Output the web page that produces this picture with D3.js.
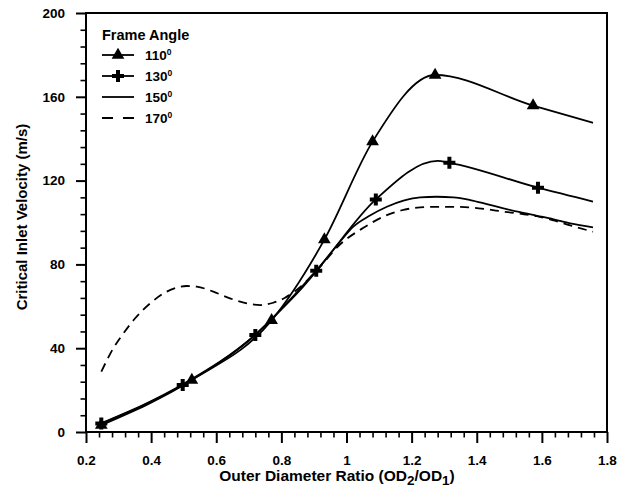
<!DOCTYPE html>
<html>
<head>
<meta charset="utf-8">
<script src="https://cdn.jsdelivr.net/npm/d3@7"></script>
<style>
  html, body { margin: 0; padding: 0; background: #fff; }
  svg { display: block; }
  text { font-family: Arial, "Liberation Sans", sans-serif; font-weight: bold; fill: #000; }
</style>
</head>
<body>
<div id="chart"></div>
<script>
// ---------- data ----------
const legendTitle = "Frame Angle";
const seriesNames = ["110", "130", "150", "170"];

// 110° frame angle (triangles); last point is the curve end without a marker
const x110 = [0.247, 0.525, 0.770, 0.932, 1.080, 1.272, 1.573, 1.757];
const y110 = [3.3, 24.8, 53.3, 91.8, 138.6, 170.4, 155.8, 147.6];
const m110 = [1, 1, 1, 1, 1, 1, 1, 0];

// 130° frame angle (plus markers)
const x130 = [0.247, 0.497, 0.720, 0.907, 1.090, 1.280, 1.316, 1.588, 1.757];
const y130 = [4.0, 22.4, 46.3, 77.0, 111.0, 129.4, 128.5, 116.6, 110.0];
const m130 = [1, 1, 1, 1, 1, 0, 1, 1, 0];

// 150° frame angle (solid line, no markers)
const x150 = [0.247, 0.500, 0.720, 0.800, 0.850, 0.910, 0.980, 1.021, 1.072, 1.124, 1.175, 1.226, 1.277, 1.328, 1.380, 1.431, 1.482, 1.533, 1.585, 1.636, 1.687, 1.757];
const y150 = [4.2, 23.0, 46.5, 58.5, 66.5, 77.3, 90.8, 98.0, 103.3, 107.5, 110.4, 112.0, 112.3, 112.0, 110.7, 108.8, 106.8, 104.9, 103.2, 101.5, 99.6, 97.7];

// 170° frame angle (dashed line, no markers)
const x170 = [0.247, 0.284, 0.315, 0.351, 0.397, 0.448, 0.509, 0.540, 0.591, 0.642, 0.694, 0.735, 0.775, 0.810, 0.860, 0.910, 0.980, 1.052, 1.124, 1.175, 1.226, 1.277, 1.328, 1.380, 1.431, 1.482, 1.533, 1.585, 1.636, 1.687, 1.757];
const y170 = [28.8, 40.0, 47.1, 54.3, 61.4, 67.0, 69.7, 69.4, 67.0, 63.8, 61.4, 60.6, 61.7, 64.0, 69.5, 77.3, 89.5, 97.5, 103.5, 106.0, 107.2, 107.5, 107.5, 107.2, 106.3, 105.2, 104.2, 103.0, 101.0, 98.6, 95.6];

const xTicks = [0.2, 0.4, 0.6, 0.8, 1.0, 1.2, 1.4, 1.6, 1.8];
const xTickLabels = ["0.2", "0.4", "0.6", "0.8", "1", "1.2", "1.4", "1.6", "1.8"];
const yTicks = [0, 40, 80, 120, 160, 200];
const xTitle = ["Outer Diameter Ratio (OD", "2", "/OD", "1", ")"];
const yTitle = "Critical Inlet Velocity (m/s)";

// ---------- chart ----------
const W = 620, H = 499;
const FONT = "Arial, 'Liberation Sans', sans-serif";
const svg = d3.select("#chart").append("svg").attr("width", W).attr("height", H);

const x = d3.scaleLinear().domain([0.2, 1.8]).range([86, 607]);
const y = d3.scaleLinear().domain([0, 200]).range([432, 13]);

const xMinor = d3.range(0, 41).map(i => 0.2 + i * 0.04).filter(v => !xTicks.some(t => Math.abs(t - v) < 1e-6));
const yMinor = d3.range(0, 26).map(i => i * 8).filter(v => !yTicks.includes(v));

// minor ticks
svg.append("g").attr("transform", `translate(0,${y(0)})`)
  .call(d3.axisBottom(x).tickValues(xMinor).tickSize(5.5).tickFormat(""))
  .call(g => g.select(".domain").remove())
  .call(g => g.selectAll("line").attr("stroke", "#000").attr("stroke-width", 1.6));
svg.append("g").attr("transform", `translate(${x(0.2)},0)`)
  .call(d3.axisLeft(y).tickValues(yMinor).tickSize(5.5).tickFormat(""))
  .call(g => g.select(".domain").remove())
  .call(g => g.selectAll("line").attr("stroke", "#000").attr("stroke-width", 1.6));

// major ticks
const gx = svg.append("g").attr("transform", `translate(0,${y(0)})`)
  .call(d3.axisBottom(x).tickValues(xTicks).tickSize(11).tickPadding(12)
    .tickFormat((d, i) => xTickLabels[i]));
gx.select(".domain").remove();
gx.selectAll("line").attr("stroke", "#000").attr("stroke-width", 2);
gx.selectAll("text").attr("font-size", 13.5).attr("font-family", FONT).attr("font-weight", "bold");

const gy = svg.append("g").attr("transform", `translate(${x(0.2)},0)`)
  .call(d3.axisLeft(y).tickValues(yTicks).tickSize(10).tickPadding(11));
gy.select(".domain").remove();
gy.selectAll("line").attr("stroke", "#000").attr("stroke-width", 2);
gy.selectAll("text").attr("font-size", 13.5).attr("font-family", FONT).attr("font-weight", "bold");

// frame
svg.append("rect")
  .attr("x", x(0.2)).attr("y", y(200))
  .attr("width", x(1.8) - x(0.2)).attr("height", y(0) - y(200))
  .attr("fill", "none").attr("stroke", "#000").attr("stroke-width", 2);

// lines
const line = d3.line().x(d => x(d[0])).y(d => y(d[1])).curve(d3.curveMonotoneX);
const zip = (xs, ys) => xs.map((v, i) => [v, ys[i]]);

const series = [
  { name: seriesNames[0], pts: zip(x110, y110), mk: m110, sym: d3.symbolTriangle, size: 70, dash: null },
  { name: seriesNames[1], pts: zip(x130, y130), mk: m130, sym: d3.symbolCross, size: 80, dash: null },
  { name: seriesNames[2], pts: zip(x150, y150), mk: null, sym: null, dash: null },
  { name: seriesNames[3], pts: zip(x170, y170), mk: null, sym: null, dash: "9,6" },
];

series.forEach(s => {
  svg.append("path")
    .attr("d", line(s.pts))
    .attr("fill", "none").attr("stroke", "#000").attr("stroke-width", 1.8)
    .attr("stroke-dasharray", s.dash);
  if (s.sym) {
    svg.append("g").selectAll("path")
      .data(s.pts.filter((d, i) => s.mk[i]))
      .join("path")
      .attr("transform", d => `translate(${x(d[0])},${y(d[1])})`)
      .attr("d", d3.symbol().type(s.sym).size(s.size))
      .attr("fill", "#000");
  }
});

// legend
const lg = svg.append("g");
lg.append("text").attr("x", 102).attr("y", 40).attr("font-size", 14.5).text(legendTitle);
const rowY = [55, 76, 97, 118];
series.forEach((s, i) => {
  const cy = rowY[i];
  lg.append("line").attr("x1", 102).attr("x2", 134).attr("y1", cy).attr("y2", cy)
    .attr("stroke", "#000").attr("stroke-width", 1.8)
    .attr("stroke-dasharray", s.dash ? "11,10" : null);
  if (s.sym) {
    lg.append("path").attr("transform", `translate(118,${cy})`)
      .attr("d", d3.symbol().type(s.sym).size(s.size)).attr("fill", "#000");
  }
  const t = lg.append("text").attr("x", 145).attr("y", cy + 5).attr("font-size", 13.5);
  t.append("tspan").text(s.name);
  t.append("tspan").attr("font-size", 8.5).attr("dy", -5).text("0");
});

// axis titles
const xt = svg.append("text").attr("x", 337).attr("y", 481).attr("text-anchor", "middle").attr("font-size", 15.5);
xt.append("tspan").text(xTitle[0]);
xt.append("tspan").attr("dy", 4).attr("font-size", 13.5).text(xTitle[1]);
xt.append("tspan").attr("dy", -4).text(xTitle[2]);
xt.append("tspan").attr("dy", 4).attr("font-size", 13.5).text(xTitle[3]);
xt.append("tspan").attr("dy", -4).text(xTitle[4]);

svg.append("text")
  .attr("transform", `translate(27,${217}) rotate(-90)`)
  .attr("text-anchor", "middle").attr("font-size", 15)
  .text(yTitle);
</script>
</body>
</html>
